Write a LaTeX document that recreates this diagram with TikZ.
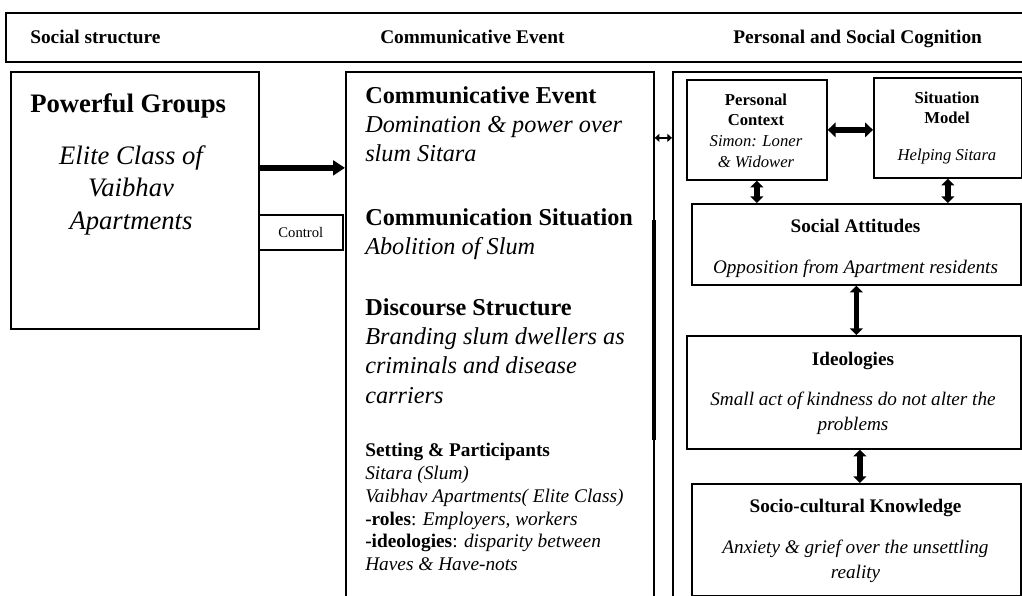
\documentclass[tikz,border=0pt]{standalone}
\usepackage{fontspec}
\setmainfont{Liberation Serif}
\usepackage{tikz}
\usetikzlibrary{positioning,arrows.meta,calc}
\tikzset{
  box/.style={rectangle,draw,line width=1.3pt,inner sep=0pt,anchor=north west},
  txt/.style={inner sep=0pt,align=left,anchor=north west},
  ctxt/.style={inner sep=0pt,align=center,anchor=north},
  hdr/.style={inner sep=0pt,anchor=base west,font=\fontsize{14.5}{17}\selectfont\bfseries},
  arrow/.style={-{Triangle[length=9pt,width=11pt]},line width=4.5pt},
  darrow/.style={{Triangle[length=5pt,width=9.5pt]}-{Triangle[length=5pt,width=9.5pt]},line width=4pt},
  harrow/.style={{Triangle[length=6pt,width=11pt]}-{Triangle[length=6pt,width=11pt]},line width=4.5pt},
  sarrow/.style={{Triangle[length=3.5pt,width=6pt]}-{Triangle[length=3.5pt,width=6pt]},line width=1.8pt}
}
\begin{document}
\begin{tikzpicture}[
			x=0.75pt,y=-0.75pt,
			bigtitle/.style={inner sep=0pt,anchor=base west,font=\fontsize{20}{24}\selectfont\bfseries},
			evfont/.style={font=\fontsize{18.2}{22}\selectfont},
			smallfont/.style={font=\fontsize{14.5}{17.1}\selectfont},
			pcfont/.style={font=\fontsize{12.5}{15.5}\selectfont},
			cogfont/.style={font=\fontsize{14.4}{18.75}\selectfont}
			]
			
			\useasboundingbox (0,0) rectangle (1022,596);
			\clip (0,0) rectangle (1022,596);
			
			\node[box,line width=1.8pt,minimum width=772.5pt,minimum height=36.75pt] (header) at (5,12) {};
			\node[hdr] (hsoc) at (30,43) {Social structure};
			\node[hdr] (hevt) at (380,43) {Communicative Event};
			\node[hdr] (hcog) at (733,43) {Personal and Social Cognition};
			
			\node[box,minimum width=186pt,minimum height=192.75pt] (groups) at (10,71) {};
			\node[bigtitle] (pgtitle) at (30,112) {Powerful Groups};
			\node[ctxt,font=\fontsize{20}{24.4}\selectfont\itshape] (pgtext) at (131,145) {Elite Class of\\Vaibhav\\Apartments};
			
			\node[box,minimum width=231pt,minimum height=420pt] (event) at (345,71) {};
			\node[txt,evfont] (evone) at (365,86) {\textbf{Communicative Event}\\\textit{Domination \& power over}\\\textit{slum Sitara}};
			\node[txt,evfont] (evtwo) at (365,208) {\textbf{Communication Situation}\\\textit{Abolition of Slum}};
			\node[txt,evfont] (evthree) at (365,298) {\textbf{Discourse Structure}\\\textit{Branding slum dwellers as}\\\textit{criminals and disease}\\\textit{carriers}};
			\node[txt,smallfont] (evfour) at (365,443) {\textbf{Setting \& Participants}\\\textit{Sitara (Slum)}\\\textit{Vaibhav Apartments( Elite Class)}\\\textbf{-roles}: \textit{Employers, workers}\\\textbf{-ideologies}: \textit{disparity between}\\\textit{Haves \& Have-nots}};
			
			\node[box,minimum width=63pt,minimum height=26.25pt] (ctrl) at (258,214) {};
			\node[font=\fontsize{11}{13}\selectfont,inner sep=0pt] (ctrltext) at (ctrl.center) {Control};
			
			\node[box,minimum width=300pt,minimum height=420pt] (cog) at (672,71) {};
			\node[box,minimum width=105pt,minimum height=75pt] (pc) at (686,79) {};
			\node[ctxt,pcfont] (pctext) at (756,93.5) {\textbf{Personal}\\\textbf{Context}\\\textit{Simon: Loner}\\\textit{\& Widower}};
			\node[box,minimum width=111pt,minimum height=75pt] (sm) at (873,77) {};
			\node[ctxt,pcfont] (smtext) at (947,91.5) {\textbf{Situation}\\\textbf{Model}\\[12pt]\textit{Helping Sitara}};
			\node[box,minimum width=246.75pt,minimum height=60.75pt] (sa) at (691,203) {};
			\node[ctxt,cogfont] (satext) at (855.5,218.7) {\textbf{Social Attitudes}\\[12pt]\textit{Opposition from Apartment residents}};
			\node[box,minimum width=250.5pt,minimum height=84.75pt] (ideo) at (686,335) {};
			\node[ctxt,cogfont] (ideotext) at (853,351.7) {\textbf{Ideologies}\\[11.25pt]\textit{Small act of kindness do not alter the}\\\textit{problems}};
			\node[box,minimum width=246.75pt,minimum height=84pt] (sck) at (691,483) {};
			\node[ctxt,cogfont] (scktext) at (855.5,498.7) {\textbf{Socio-cultural Knowledge}\\[12pt]\textit{Anxiety \& grief over the unsettling}\\\textit{reality}};
			
			\draw[line width=3pt] ($(event.north east)+(-1,149)$) -- ($(event.north east)+(-1,369)$);
			
			\draw[arrow] ($(groups.east)+(0,-32.5)$) -- ($(groups.east -| event.west)+(0,-32.5)$);
			\draw[sarrow] ($(event.east)+(0,-214)$) -- ($(event.east -| cog.west)+(0,-214)$);
			\draw[harrow] (pc.east) -- (pc.east -| sm.west);
			\draw[darrow] (pc.south) -- (pc.south |- sa.north);
			\draw[darrow] (sm.south) -- (sm.south |- sa.north);
			\draw[darrow] (sa.south) -- (sa.south |- ideo.north);
			\draw[darrow] ($(ideo.south)+(6,0)$) -- ($(ideo.south |- sck.north)+(6,0)$);
			
		\end{tikzpicture}
\end{document}
